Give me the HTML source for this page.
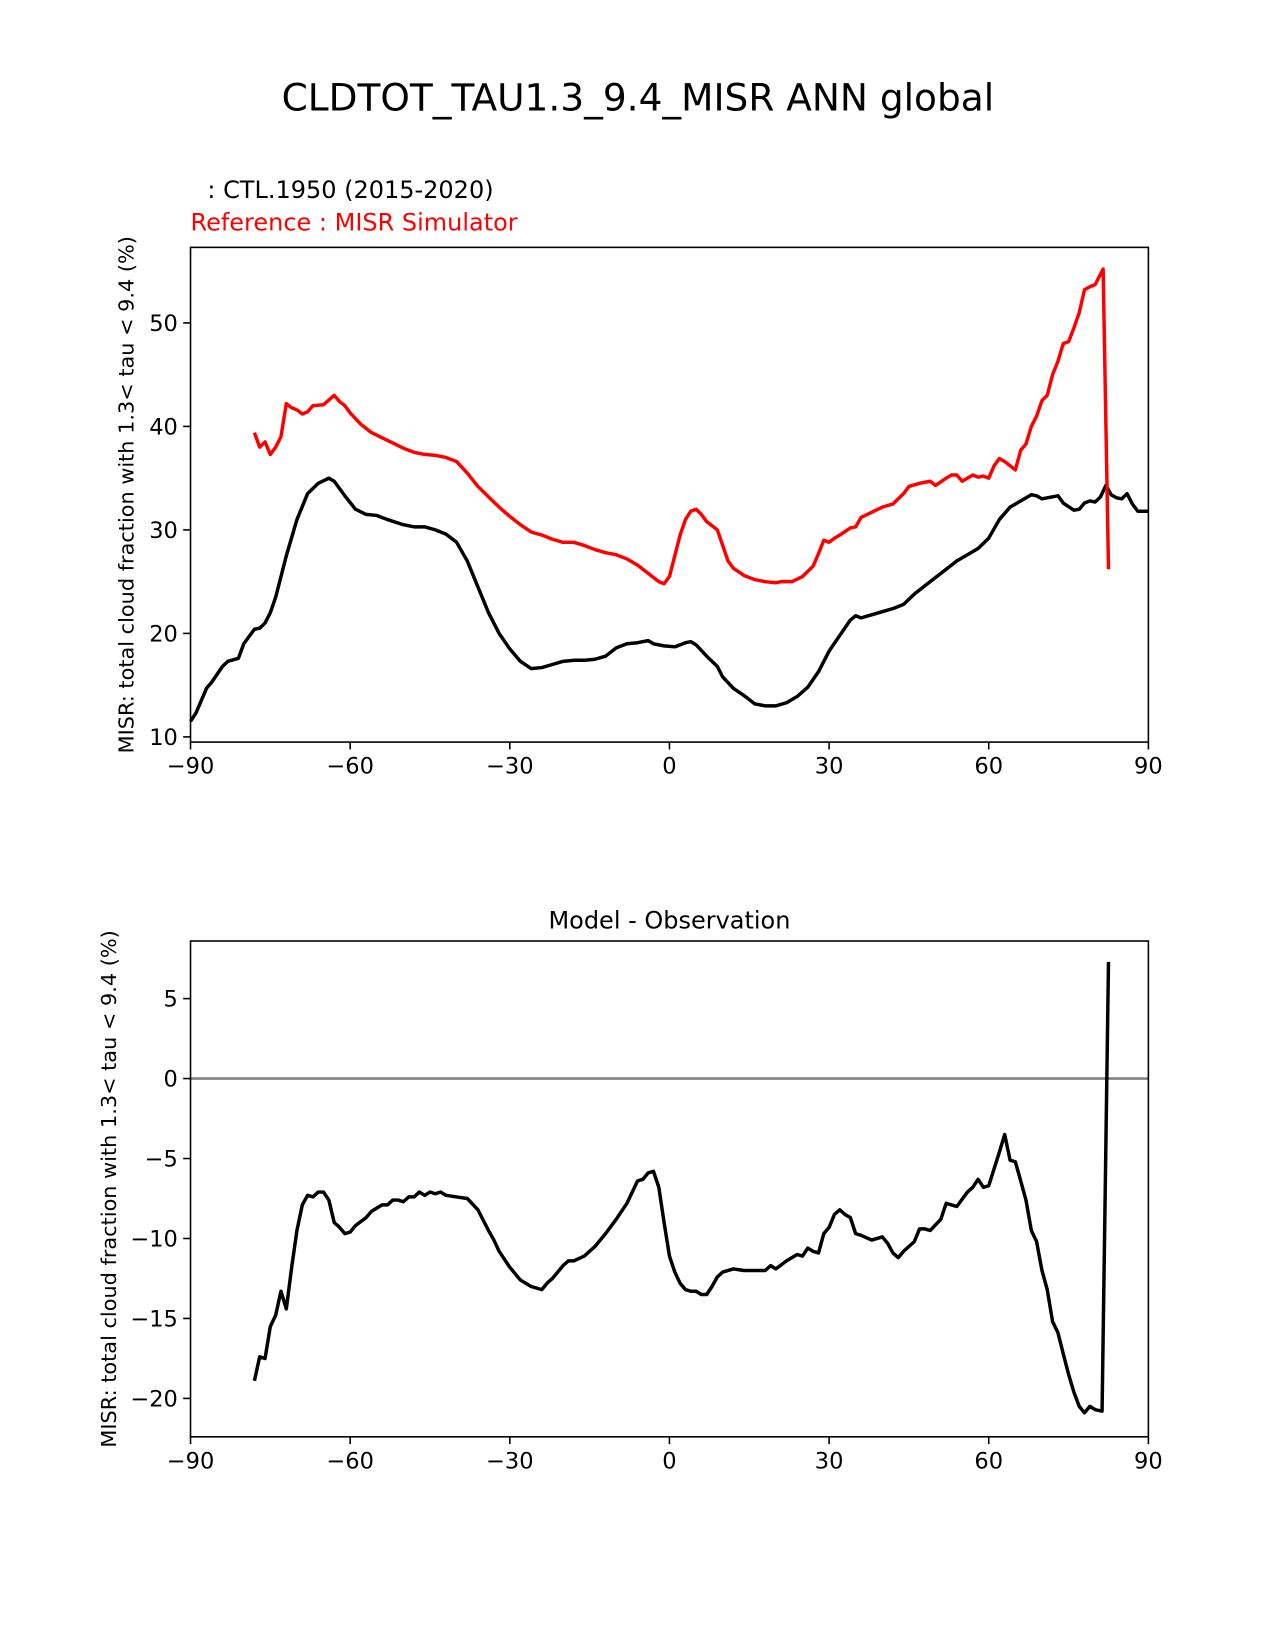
<!DOCTYPE html>
<html><head><meta charset="utf-8">
<style>
html,body{margin:0;padding:0;background:#fff;}
svg{display:block;font-family:"DejaVu Sans","Liberation Sans",sans-serif;}
</style></head>
<body>
<svg id="fig" width="1275" height="1650" viewBox="0 0 1275 1650" xmlns="http://www.w3.org/2000/svg">
<rect width="1275" height="1650" fill="#fff"/>
<g id="root" transform="scale(1.0526)">
<text x="606" y="105" font-size="35.6" text-anchor="middle">CLDTOT_TAU1.3_9.4_MISR ANN global</text>
<text x="197" y="188" font-size="22.8">: CTL.1950 (2015-2020)</text>
<text x="181" y="219" font-size="22.8" fill="#ff0000">Reference : MISR Simulator</text>
<text x="636" y="882" font-size="22.8" text-anchor="middle">Model - Observation</text>
<g id="topG"></g>
<g id="botG"></g>
</g>
</svg>
<script>
const xTicks=[-90,-60,-30,0,30,60,90];
const topYTicks=[10,20,30,40,50];
const botYTicks=[5,0,-5,-10,-15,-20];
const modelLat=[-90,-89,-87,-86,-84,-83,-81,-80,-78,-77,-76,-75,-74,-72,-70,-68,-66,-64,-63,-61,-59,-57,-55,-53,-50,-48,-46,-44,-42,-40,-38,-36,-34,-32,-30,-28,-26,-24,-22,-20,-18,-16,-14,-12,-10,-8,-6,-4,-3,-1,1,3,4,5,7,9,10,12,14,16,18,20,22,24,26,28,30,32,34,35,36,38,40,42,44,46,48,50,52,54,56,58,60,62,64,66,68,69,70,72,73,74,76,77,78,79,80,81,82,83,84,85,86,87,88,90];
const modelVal=[11.5,12.3,14.7,15.3,16.8,17.3,17.6,19.0,20.4,20.5,21.0,22.0,23.5,27.5,31.0,33.5,34.5,35.0,34.7,33.3,32.0,31.5,31.4,31.0,30.5,30.3,30.3,30.0,29.6,28.8,27.0,24.5,22.0,20.0,18.5,17.3,16.6,16.7,17.0,17.3,17.4,17.4,17.5,17.8,18.6,19.0,19.1,19.3,19.0,18.8,18.7,19.1,19.2,18.9,17.8,16.8,15.8,14.7,14.0,13.2,13.0,13.0,13.3,13.9,14.8,16.3,18.3,19.8,21.3,21.7,21.5,21.8,22.1,22.4,22.8,23.8,24.6,25.4,26.2,27.0,27.6,28.2,29.2,31.0,32.2,32.8,33.4,33.3,33.0,33.2,33.3,32.6,31.9,32.0,32.6,32.8,32.7,33.2,34.3,33.4,33.1,33.0,33.5,32.5,31.8,31.8];
const obsLat=[-78,-77,-76,-75,-74,-73,-72,-71,-70,-69,-68,-67,-65,-63,-62,-61,-60,-58,-56,-54,-52,-50,-48,-46,-44,-42,-40,-38,-36,-34,-32,-30,-28,-26,-24,-22,-20,-18,-16,-14,-12,-10,-8,-6,-4,-2,-1,0,2,3,4,5,6,7,9,10,11,12,14,16,18,20,21,23,25,26,27,28,29,30,31,32,34,35,36,38,40,42,44,45,47,49,50,52,53,54,55,57,58,59,60,61,62,63,64,65,66,67,68,69,70,71,72,73,74,75,76,77,78,79,80,81.5,82.5];
const obsVal=[39.4,38.0,38.5,37.3,38.0,39.0,42.2,41.8,41.6,41.2,41.4,42.0,42.1,43.0,42.4,42.0,41.3,40.2,39.4,38.9,38.4,37.9,37.5,37.3,37.2,37.0,36.6,35.5,34.2,33.2,32.2,31.3,30.5,29.8,29.5,29.1,28.8,28.8,28.5,28.1,27.8,27.6,27.2,26.6,25.8,25.0,24.8,25.5,29.5,31.0,31.8,32.0,31.5,30.8,30.0,28.5,27.0,26.3,25.6,25.2,25.0,24.9,25.0,25.0,25.5,26.0,26.5,27.7,29.0,28.8,29.2,29.5,30.2,30.3,31.2,31.7,32.2,32.5,33.5,34.2,34.5,34.7,34.3,35.0,35.3,35.3,34.7,35.3,35.1,35.2,35.0,36.2,36.9,36.6,36.2,35.8,37.7,38.3,40.0,41.0,42.5,43.0,45.0,46.3,48.0,48.2,49.5,51.0,53.2,53.5,53.7,55.2,26.2];
const diffLat=[-78,-77,-76,-75,-74,-73,-72,-71,-70,-69,-68,-67,-66,-65,-64,-63,-62,-61,-60,-59,-57,-56,-54,-53,-52,-51,-50,-49,-48,-47,-46,-45,-44,-43,-42,-40,-38,-36,-34,-33,-32,-30,-28,-26,-24,-23,-22,-20,-19,-18,-16,-14,-12,-10,-8,-6,-5,-4,-3,-2,-1,0,1,2,3,4,5,6,7,8,9,10,12,14,16,18,19,20,22,24,25,26,27,28,29,30,31,32,33,34,35,36,38,40,41,42,43,44,46,47,48,49,51,52,53,54,56,57,58,59,60,62,63,64,65,66,67,68,69,70,71,72,73,74,75,76,77,78,79,80,81.3,82.5];
const diffVal=[-18.9,-17.4,-17.5,-15.5,-14.8,-13.3,-14.4,-11.8,-9.5,-7.9,-7.3,-7.4,-7.1,-7.1,-7.6,-9.0,-9.3,-9.7,-9.6,-9.2,-8.7,-8.3,-7.9,-7.9,-7.6,-7.6,-7.7,-7.4,-7.4,-7.1,-7.3,-7.1,-7.2,-7.1,-7.3,-7.4,-7.5,-8.2,-9.5,-10.1,-10.8,-11.8,-12.6,-13.0,-13.2,-12.8,-12.5,-11.7,-11.4,-11.4,-11.1,-10.5,-9.7,-8.8,-7.8,-6.4,-6.3,-5.9,-5.8,-6.8,-9.0,-11.1,-12.1,-12.8,-13.2,-13.3,-13.3,-13.5,-13.5,-13.0,-12.4,-12.1,-11.9,-12.0,-12.0,-12.0,-11.7,-11.9,-11.4,-11.0,-11.1,-10.6,-10.8,-10.9,-9.7,-9.3,-8.5,-8.2,-8.5,-8.7,-9.7,-9.8,-10.1,-9.9,-10.3,-10.9,-11.2,-10.8,-10.2,-9.4,-9.4,-9.5,-8.8,-7.8,-7.9,-8.0,-7.1,-6.8,-6.3,-6.8,-6.7,-4.6,-3.5,-5.1,-5.2,-6.4,-7.6,-9.5,-10.2,-12.0,-13.2,-15.2,-15.9,-17.2,-18.5,-19.6,-20.5,-20.9,-20.5,-20.7,-20.8,7.3];

const NS="http://www.w3.org/2000/svg";
function mk(tag,attrs,parent){const e=document.createElementNS(NS,tag);for(const k in attrs)e.setAttribute(k,attrs[k]);parent.appendChild(e);return e;}
const X0=181,X1=1091;
function xs(v){return X0+(v+90)/180*(X1-X0);}
function panel(g,y0,y1,ymin,ymax,yTicks,ylabel,labelX){
  const ys=v=>y1-(v-ymin)/(ymax-ymin)*(y1-y0);
  for(const t of xTicks){
    const tk=mk('line',{x1:xs(t),x2:xs(t),y1:y1,y2:y1+7,stroke:'#000','stroke-width':1.5},g);
    
    
    const tx=mk('text',{x:xs(t),y:y1+30,'font-size':21.4,'text-anchor':'middle'},g);
    tx.textContent=(t<0?'\u2212'+(-t):String(t));
    
    
  }
  for(const t of yTicks){
    const tk=mk('line',{x1:X0-7,x2:X0,y1:ys(t),y2:ys(t),stroke:'#000','stroke-width':1.5},g);
    
    
    const tx=mk('text',{x:X0-12,y:ys(t)+7.5,'font-size':21.4,'text-anchor':'end'},g);
    tx.textContent=(t<0?'\u2212'+(-t):String(t));
    
    
  }
  const yl=mk('text',{x:0,y:0,'font-size':19.8,'text-anchor':'middle',transform:`translate(${labelX},${(y0+y1)/2}) rotate(-90)`},g);
  yl.textContent=ylabel;
  
  
  return ys;
}
function line(g,lat,val,ys,color,w,name){
  const d=lat.map((v,i)=>(i?'L':'M')+xs(v).toFixed(1)+','+ys(val[i]).toFixed(1)).join('');
  const p=mk('path',{d:d,fill:'none',stroke:color,'stroke-width':w,'stroke-linejoin':'round'},g);
  
  
}
const lab='MISR: total cloud fraction with 1.3< tau < 9.4 (%)';
const topG=document.getElementById('topG');
const ysT=panel(topG,235,705,9.5,57.3,topYTicks,lab,127);
line(topG,modelLat,modelVal,ysT,'#000',3.3,'model-line');
line(topG,obsLat,obsVal,ysT,'#ff0000',3.3,'reference-line');
const f1=mk('rect',{x:X0,y:235,width:X1-X0,height:470,fill:'none',stroke:'#000','stroke-width':1.5},topG);


const botG=document.getElementById('botG');
const ysB=panel(botG,894,1365,-22.4,8.6,botYTicks,lab,110);
const z=mk('line',{x1:X0,x2:X1,y1:ysB(0),y2:ysB(0),stroke:'#808080','stroke-width':2.4},botG);


line(botG,diffLat,diffVal,ysB,'#000',3.3,'difference-line');
const f2=mk('rect',{x:X0,y:894,width:X1-X0,height:471,fill:'none',stroke:'#000','stroke-width':1.5},botG);


</script>
</body></html>
